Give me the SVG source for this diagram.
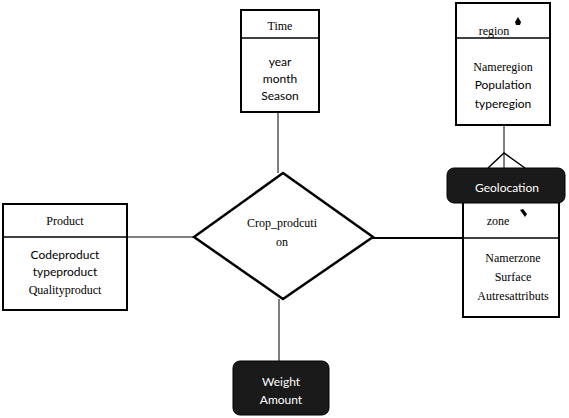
<svg xmlns="http://www.w3.org/2000/svg" width="569" height="418" viewBox="0 0 569 418">
<style>
.box{fill:#fff;stroke:#000;stroke-width:2}
.div{stroke:#000;stroke-width:1.5}
.dark{fill:#1a1a1a;stroke:#000;stroke-width:1}
.ser{font-family:"Liberation Serif","Times New Roman",serif;font-size:12px;fill:#000;text-anchor:middle}
.san{font-family:Lato,"Liberation Sans",sans-serif;font-size:12px;fill:#000;text-anchor:middle}
.wht{font-family:Lato,"Liberation Sans",sans-serif;font-size:12px;fill:#fff;text-anchor:middle}
.con{stroke:#000;stroke-width:1;fill:none}
.icon{fill:#000}
</style>
<g id="connectors">
<line class="con" x1="278" y1="112" x2="278" y2="173"/>
<line class="con" x1="127" y1="237" x2="195" y2="237"/>
<line class="con" x1="279" y1="299" x2="279" y2="361"/>
<line class="con" style="stroke-width:2" x1="372" y1="238" x2="463" y2="238"/>
<line class="con" x1="504" y1="125" x2="504" y2="168"/>
<polyline class="con" style="stroke-width:1.5" points="488,168 504,153 525,168"/>
</g>
<g id="time">
<rect class="box" x="241" y="10" width="78" height="102"/>
<line class="div" x1="241" y1="38" x2="319" y2="38"/>
<text class="ser" x="280" y="30">Time</text>
<text class="san" x="280" y="66">year</text>
<text class="san" x="280" y="83">month</text>
<text class="san" x="280" y="100">Season</text>
</g>
<g id="region">
<rect class="box" x="456" y="3" width="94" height="122"/>
<line class="div" x1="456" y1="38" x2="550" y2="38"/>
<text class="ser" x="494" y="35">region</text>
<path class="icon" d="M518,17 L521,22 L520,25 L516,25 L515,22 Z"/>
<text class="ser" x="503" y="71">Nameregion</text>
<text class="san" x="503" y="89">Population</text>
<text class="san" x="503" y="108">typeregion</text>
</g>
<g id="zone">
<rect class="box" x="463" y="198" width="96" height="119"/>
<line class="div" x1="463" y1="238" x2="559" y2="238"/>
<text class="ser" x="498" y="225">zone</text>
<path class="icon" d="M520,210 L523,209 L527,214 L525,217 Z"/>
<text class="ser" x="513" y="262">Namerzone</text>
<text class="ser" x="513" y="281">Surface</text>
<text class="ser" x="513" y="300">Autresattributs</text>
</g>
<g id="geolocation">
<rect class="dark" x="447" y="168" width="118" height="35" rx="7"/>
<text class="wht" x="507" y="192">Geolocation</text>
</g>
<g id="product">
<rect class="box" x="3" y="204" width="124" height="106"/>
<line class="div" x1="3" y1="237" x2="127" y2="237"/>
<text class="ser" x="65" y="225">Product</text>
<text class="san" x="65" y="259">Codeproduct</text>
<text class="san" x="65" y="276">typeproduct</text>
<text class="ser" x="65" y="294">Qualityproduct</text>
</g>
<g id="crop_production">
<polygon points="283,173 373,237 283,299 194,237" fill="#fff" stroke="#000" stroke-width="2.5"/>
<text class="ser" x="282" y="227">Crop_prodcuti</text>
<text class="ser" x="282" y="246">on</text>
</g>
<g id="weight">
<rect class="dark" x="233" y="361" width="96" height="54" rx="7"/>
<text class="wht" x="281" y="386">Weight</text>
<text class="wht" x="281" y="404">Amount</text>
</g>
</svg>
